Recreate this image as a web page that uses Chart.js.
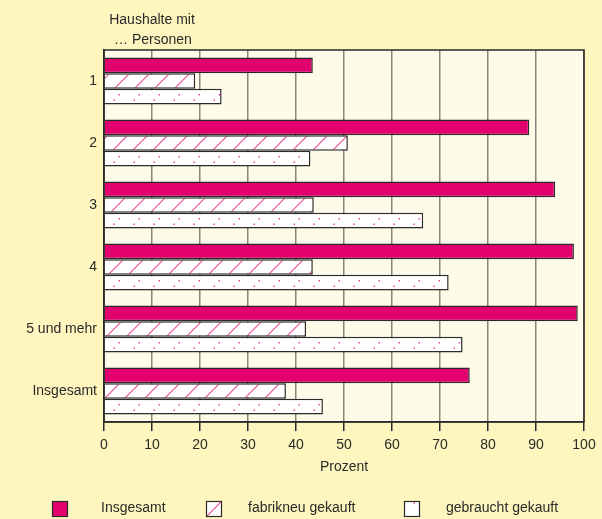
<!DOCTYPE html>
<html>
<head>
<meta charset="utf-8">
<script src="https://cdn.jsdelivr.net/npm/chart.js@4.4.0/dist/chart.umd.min.js"></script>
<style>
    html, body { margin: 0; padding: 0; background: #fef6be; }
    #wrap { width: 602px; height: 519px; }
</style>
</head>
<body>
<div id="wrap"><canvas id="haushaltChart" width="602" height="519"></canvas></div>
<script>
// Kategorien (Haushalte mit ... Personen)
const categories = ['1', '2', '3', '4', '5 und mehr', 'Insgesamt'];

// Werte in Prozent
const insgesamt = [43.5, 88.6, 94.0, 97.9, 98.7, 76.2];
const fabrikneu = [19.0, 50.8, 43.7, 43.5, 42.1, 37.9];
const gebraucht = [24.5, 43.0, 66.5, 71.8, 74.7, 45.6];

const seriesNames = ['Insgesamt', 'fabrikneu gekauft', 'gebraucht gekauft'];
const xTicks = [0, 10, 20, 30, 40, 50, 60, 70, 80, 90, 100];

const MAGENTA = '#e2006f';
const PINK = '#ec4a98';
const EDGE = '#2a2a2a';
const FONT = "'Liberation Sans', Arial, sans-serif";

// Schraffur-Muster (schräge Linien, Abstand 20 px)
function makeHatch() {
    const c = document.createElement('canvas');
    c.width = 20;
    c.height = 20;
    const g = c.getContext('2d');
    g.fillStyle = '#ffffff';
    g.fillRect(0, 0, 20, 20);
    g.strokeStyle = PINK;
    g.lineWidth = 1.1;
    g.beginPath();
    g.moveTo(-1, 4);
    g.lineTo(4, -1);
    g.moveTo(2, 21);
    g.lineTo(21, 2);
    g.stroke();
    return g.createPattern(c, 'repeat');
}

// Punkt-Muster (zwei versetzte Reihen je Balken)
function makeDots() {
    const c = document.createElement('canvas');
    c.width = 20;
    c.height = 31;
    const g = c.getContext('2d');
    g.fillStyle = '#ffffff';
    g.fillRect(0, 0, 20, 31);
    g.fillStyle = PINK;
    g.fillRect(18.5, 1, 1.5, 1.5);
    g.fillRect(13.5, 6.5, 1.5, 1.5);
    return g.createPattern(c, 'repeat');
}

const hatch = makeHatch();
const dots = makeDots();
const fills = [MAGENTA, hatch, dots];

// Hintergrund, Rahmen, Überschrift und Legende
const decoPlugin = {
    id: 'deco',
    beforeDraw(chart) {
        const ctx = chart.ctx;
        const a = chart.chartArea;
        ctx.save();
        ctx.fillStyle = '#fef6be';
        ctx.fillRect(0, 0, chart.width, chart.height);
        ctx.fillStyle = '#fffbe9';
        ctx.fillRect(a.left, a.top, a.right - a.left, a.bottom - a.top);
        ctx.restore();
    },
    afterDraw(chart) {
        const ctx = chart.ctx;
        const a = chart.chartArea;
        ctx.save();
        ctx.strokeStyle = EDGE;
        ctx.lineWidth = 1.5;
        ctx.strokeRect(a.left, a.top, a.right - a.left, a.bottom - a.top);

        ctx.fillStyle = '#2a2a2a';
        ctx.font = '14px ' + FONT;
        ctx.textAlign = 'center';
        ctx.textBaseline = 'middle';
        ctx.fillText('Haushalte mit', 152, 20);
        ctx.fillText('\u2026 Personen', 153, 40);

        const boxX = [52, 206, 404];
        const textX = [101, 248, 446];
        ctx.textAlign = 'left';
        for (let i = 0; i < seriesNames.length; i++) {
            ctx.fillStyle = fills[i];
            ctx.fillRect(boxX[i], 501, 16, 16);
            ctx.strokeStyle = EDGE;
            ctx.lineWidth = 1.2;
            ctx.strokeRect(boxX[i] + 0.5, 501.5, 15, 15);
            ctx.fillStyle = '#2a2a2a';
            ctx.fillText(seriesNames[i], textX[i], 508);
        }
        ctx.restore();
    }
};

const ctx = document.getElementById('haushaltChart').getContext('2d');
const chart = new Chart(ctx, {
    type: 'bar',
    data: {
        labels: categories,
        datasets: [
            { label: seriesNames[0], data: insgesamt, backgroundColor: fills[0] },
            { label: seriesNames[1], data: fabrikneu, backgroundColor: fills[1] },
            { label: seriesNames[2], data: gebraucht, backgroundColor: fills[2] }
        ].map(function (ds) {
            ds.borderColor = EDGE;
            ds.borderWidth = 1.5;
            ds.categoryPercentage = 0.76;
            ds.barPercentage = 1.0;
            return ds;
        })
    },
    options: {
        indexAxis: 'y',
        responsive: false,
        animation: false,
        layout: {
            padding: { top: 50, right: 18, bottom: 43, left: 0 }
        },
        plugins: {
            legend: { display: false },
            tooltip: { enabled: false }
        },
        scales: {
            x: {
                min: 0,
                max: 100,
                afterBuildTicks: function (scale) {
                    scale.ticks = xTicks.map(function (v) { return { value: v }; });
                },
                afterFit: function (scale) {
                    scale.height = 54;
                },
                grid: {
                    color: '#8a857a',
                    lineWidth: 1.5,
                    tickColor: EDGE,
                    tickLength: 9,
                    drawOnChartArea: true
                },
                border: { color: EDGE, width: 1.5 },
                ticks: {
                    color: '#2a2a2a',
                    padding: 6,
                    font: { family: FONT, size: 14 }
                },
                title: {
                    display: true,
                    text: 'Prozent',
                    color: '#2a2a2a',
                    padding: { top: 5, bottom: 0 },
                    font: { family: FONT, size: 14 }
                }
            },
            y: {
                afterFit: function (scale) {
                    scale.width = 104;
                },
                grid: { display: false, drawTicks: false },
                border: { color: EDGE, width: 1.5 },
                ticks: {
                    color: '#2a2a2a',
                    padding: 7,
                    font: { family: FONT, size: 14 }
                }
            }
        }
    },
    plugins: [decoPlugin]
});
</script>
</body>
</html>
